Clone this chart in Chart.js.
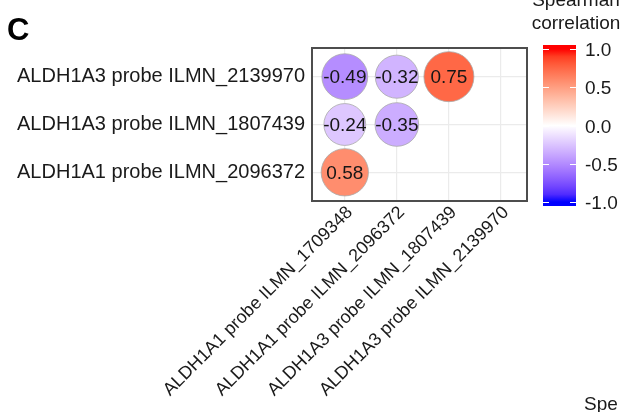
<!DOCTYPE html>
<html>
<head>
<meta charset="utf-8">
<script src="https://cdn.jsdelivr.net/npm/chart.js@4"></script>
<style>
  html, body { margin: 0; padding: 0; background: #fff; }
  #wrap { width: 621px; height: 412px; position: relative; }
</style>
</head>
<body>
<div id="wrap"><canvas id="c" width="621" height="412"></canvas></div>
<script>
// probes on the x axis (left to right)
const xProbes = [
  "ALDH1A1 probe ILMN_1709348",
  "ALDH1A1 probe ILMN_2096372",
  "ALDH1A3 probe ILMN_1807439",
  "ALDH1A3 probe ILMN_2139970"
]
// probes on the y axis (bottom to top)
const yProbes = [
  "ALDH1A1 probe ILMN_2096372",
  "ALDH1A3 probe ILMN_1807439",
  "ALDH1A3 probe ILMN_2139970"
]
// correlations, one row per y probe, null = blank (lower triangle)
const rowBottom = [0.58, null, null, null]
const rowMiddle = [-0.24, -0.35, null, null]
const rowTop = [-0.49, -0.32, 0.75, null]
const legendTicks = [1.0, 0.5, 0.0, -0.5, -1.0]

const FONT = "'Liberation Sans', Arial, sans-serif"

// Lab interpolation, like ggplot's gradient2
function toLin(c) { c /= 255; return c <= 0.04045 ? c / 12.92 : Math.pow((c + 0.055) / 1.055, 2.4) }
function fromLin(c) { const v = c <= 0.0031308 ? 12.92 * c : 1.055 * Math.pow(c, 1 / 2.4) - 0.055; return Math.round(Math.max(0, Math.min(1, v)) * 255) }
function rgb2lab([r, g, b]) {
  r = toLin(r); g = toLin(g); b = toLin(b)
  let x = (r * 0.4124 + g * 0.3576 + b * 0.1805) / 0.95047
  let y = (r * 0.2126 + g * 0.7152 + b * 0.0722)
  let z = (r * 0.0193 + g * 0.1192 + b * 0.9505) / 1.08883
  const f = t => t > 0.008856 ? Math.cbrt(t) : 7.787 * t + 16 / 116
  x = f(x); y = f(y); z = f(z)
  return [116 * y - 16, 500 * (x - y), 200 * (y - z)]
}
function lab2rgb([L, a, b]) {
  let y = (L + 16) / 116, x = a / 500 + y, z = y - b / 200
  const g = t => t * t * t > 0.008856 ? t * t * t : (t - 16 / 116) / 7.787
  x = g(x) * 0.95047; y = g(y); z = g(z) * 1.08883
  const r = x * 3.2406 + y * -1.5372 + z * -0.4986
  const gg = x * -0.9689 + y * 1.8758 + z * 0.0415
  const bb = x * 0.0557 + y * -0.2040 + z * 1.0570
  return [fromLin(r), fromLin(gg), fromLin(bb)]
}
const LAB_LOW = rgb2lab([0, 0, 255]), LAB_MID = rgb2lab([255, 255, 255]), LAB_HIGH = rgb2lab([255, 0, 0])
function corrColor(v) {
  const end = v < 0 ? LAB_LOW : LAB_HIGH
  const t = Math.abs(v)
  const lab = LAB_MID.map((m, i) => m + (end[i] - m) * t)
  const c = lab2rgb(lab)
  return `rgb(${c[0]},${c[1]},${c[2]})`
}

const points = []
;[rowBottom, rowMiddle, rowTop].forEach((row, yi) => {
  row.forEach((v, xi) => {
    if (v !== null) points.push({ x: xi + 1, y: yi + 1, v: v })
  })
})

const extras = {
  id: "extras",
  beforeDraw(chart) {
    const ctx = chart.ctx
    ctx.save()
    ctx.fillStyle = "#fff"
    ctx.fillRect(0, 0, chart.width, chart.height)
    ctx.restore()
  },
  afterDatasetsDraw(chart) {
    const ctx = chart.ctx
    const a = chart.chartArea
    ctx.save()
    // value labels
    const meta = chart.getDatasetMeta(0)
    ctx.font = "19px " + FONT
    ctx.fillStyle = "#161616"
    ctx.textAlign = "center"
    ctx.textBaseline = "middle"
    meta.data.forEach((el, i) => {
      ctx.fillText(points[i].v.toFixed(2), el.x, el.y + 1)
    })
    // panel border
    ctx.strokeStyle = "#4d4d4d"
    ctx.lineWidth = 2
    ctx.strokeRect(a.left, a.top, a.right - a.left, a.bottom - a.top)

    // colour bar
    const bx = 543, bw = 33, top = 45, bot = 206
    const y1 = 49, ym1 = 202
    const yOf = v => y1 + (1 - v) / 2 * (ym1 - y1)
    const grad = ctx.createLinearGradient(0, top, 0, bot)
    for (let k = 0; k <= 20; k++) {
      const v = 1 - k / 10
      const y = yOf(v)
      grad.addColorStop(Math.max(0, Math.min(1, (y - top) / (bot - top))), corrColor(v))
    }
    ctx.fillStyle = grad
    ctx.fillRect(bx, top, bw, bot - top)
    ctx.strokeStyle = "#fff"
    ctx.lineWidth = 1
    ctx.font = "19px " + FONT
    ctx.fillStyle = "#1a1a1a"
    ctx.textAlign = "left"
    legendTicks.forEach(v => {
      const y = Math.round(yOf(v)) + 0.5
      ctx.beginPath()
      ctx.moveTo(bx, y); ctx.lineTo(bx + 6, y)
      ctx.moveTo(bx + bw - 6, y); ctx.lineTo(bx + bw, y)
      ctx.stroke()
      ctx.fillText(v.toFixed(1), 585, y + 1)
    })
    ctx.textAlign = "center"
    ctx.textBaseline = "alphabetic"
    ctx.fillText("Spearman", 576, 6)
    ctx.fillText("correlation", 576, 29)
    ctx.textAlign = "left"
    ctx.fillText("Spe", 584, 410)
    ctx.font = "bold 31px " + FONT
    ctx.fillStyle = "#000"
    ctx.fillText("C", 7, 40)
    ctx.restore()
  }
}

new Chart(document.getElementById("c"), {
  type: "bubble",
  data: {
    datasets: [{
      data: points,
      backgroundColor: ctx => corrColor(ctx.raw.v),
      borderColor: "rgba(170,170,170,0.8)",
      borderWidth: 1,
      radius: ctx => 19 + 8 * Math.abs(ctx.raw.v),
      clip: false
    }]
  },
  options: {
    responsive: false,
    animation: false,
    events: [],
    layout: { padding: { top: 48, right: 94, left: 0, bottom: 0 } },
    plugins: { legend: { display: false }, tooltip: { enabled: false } },
    scales: {
      x: {
        type: "linear",
        min: 0.37,
        max: 4.5,
        afterBuildTicks: s => { s.ticks = xProbes.map((_, i) => ({ value: i + 1 })) },
        afterFit: s => { s.height = 211 },
        ticks: {
          autoSkip: false,
          minRotation: 45,
          maxRotation: 45,
          padding: 1,
          labelOffset: 5,
          color: "#1a1a1a",
          font: { family: FONT, size: 18 },
          callback: v => xProbes[v - 1]
        },
        grid: { color: "#ebebeb", lineWidth: 1.2, drawTicks: false },
        border: { display: false }
      },
      y: {
        type: "linear",
        min: 0.4,
        max: 3.6,
        afterBuildTicks: s => { s.ticks = yProbes.map((_, i) => ({ value: i + 1 })) },
        afterFit: s => { s.width = 312 },
        ticks: {
          padding: 7,
          color: "#1a1a1a",
          font: { family: FONT, size: 20 },
          callback: v => yProbes[v - 1]
        },
        grid: { color: "#ebebeb", lineWidth: 1.2, drawTicks: false },
        border: { display: false }
      }
    }
  },
  plugins: [extras]
})
</script>
</body>
</html>
